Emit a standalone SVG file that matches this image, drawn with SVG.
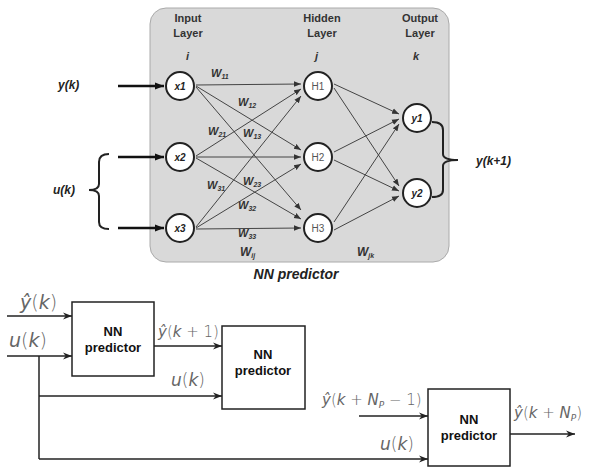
<svg xmlns="http://www.w3.org/2000/svg" width="590" height="472" viewBox="0 0 590 472">
<style>
.lbl{font-family:"Liberation Sans",Arial,sans-serif;font-weight:bold;fill:#333;font-size:11px}
.bi{font-family:"Liberation Sans",Arial,sans-serif;font-weight:bold;font-style:italic;fill:#222}
.w{font-family:"Liberation Sans",Arial,sans-serif;font-weight:bold;font-style:italic;fill:#333;font-size:11px}
.sub{font-size:7px}
.node{fill:#fff;stroke:#222;stroke-width:2}
.nl{font-family:"Liberation Sans",Arial,sans-serif;font-size:10px;text-anchor:middle}
.edge{stroke:#444;stroke-width:1;fill:none;marker-end:url(#sa)}
.thick{stroke:#111;stroke-width:2.5;fill:none;marker-end:url(#ta)}
.brace{stroke:#222;stroke-width:2;fill:none}
.box{fill:#fff;stroke:#222;stroke-width:1.5}
.bt{font-family:"Liberation Sans",Arial,sans-serif;font-weight:bold;font-size:13px;fill:#111;text-anchor:middle}
.ln{stroke:#222;stroke-width:1.5;fill:none}
.arr{stroke:#222;stroke-width:1.5;fill:none;marker-end:url(#ba)}
.m{font-family:"DejaVu Sans",sans-serif;font-weight:300;font-size:15px;fill:#666}
.it{font-style:italic}
</style>
<defs>
<marker id="sa" viewBox="0 0 10 10" refX="10" refY="5" markerWidth="7" markerHeight="7" orient="auto" markerUnits="userSpaceOnUse"><path d="M0,1 L10,5 L0,9 z" fill="#333"/></marker>
<marker id="ta" viewBox="0 0 10 10" refX="10" refY="5" markerWidth="9" markerHeight="9" orient="auto" markerUnits="userSpaceOnUse"><path d="M0,1 L10,5 L0,9 z" fill="#111"/></marker>
<marker id="ba" viewBox="0 0 10 10" refX="10" refY="5" markerWidth="9" markerHeight="9" orient="auto" markerUnits="userSpaceOnUse"><path d="M0,1 L10,5 L0,9 L3,5 z" fill="#222"/></marker>
</defs>

<g id="panel">
<rect x="150" y="8" width="299" height="254" rx="16" fill="#d9d9d9" stroke="#aaa" stroke-width="1"/>
<text class="lbl" x="188" y="22" text-anchor="middle">Input</text>
<text class="lbl" x="188" y="37" text-anchor="middle">Layer</text>
<text class="lbl" x="322" y="22" text-anchor="middle">Hidden</text>
<text class="lbl" x="322" y="37" text-anchor="middle">Layer</text>
<text class="lbl" x="420" y="22" text-anchor="middle">Output</text>
<text class="lbl" x="420" y="37" text-anchor="middle">Layer</text>
<text class="w" x="186" y="60">i</text>
<text class="w" x="315" y="60">j</text>
<text class="w" x="413" y="60">k</text>
<text class="w" x="211" y="77">W<tspan class="sub" dy="2">11</tspan></text>
<text class="w" x="238" y="106">W<tspan class="sub" dy="2">12</tspan></text>
<text class="w" x="208" y="135">W<tspan class="sub" dy="2">21</tspan></text>
<text class="w" x="243" y="137">W<tspan class="sub" dy="2">13</tspan></text>
<text class="w" x="207" y="189">W<tspan class="sub" dy="2">31</tspan></text>
<text class="w" x="243" y="185">W<tspan class="sub" dy="2">23</tspan></text>
<text class="w" x="238" y="209">W<tspan class="sub" dy="2">32</tspan></text>
<text class="w" x="238" y="237">W<tspan class="sub" dy="2">33</tspan></text>
<text class="w" x="240" y="256" style="font-size:12px">W<tspan class="sub" dy="2">ij</tspan></text>
<text class="w" x="357" y="256" style="font-size:12px">W<tspan class="sub" dy="2">jk</tspan></text>
<text class="bi" x="296" y="279" style="font-size:14px" text-anchor="middle">NN predictor</text>
</g>

<g id="connectors">
<line class="edge" x1="196" y1="85" x2="301" y2="84"/>
<line class="edge" x1="196" y1="86" x2="301" y2="150"/>
<line class="edge" x1="196" y1="87" x2="301" y2="210"/>
<line class="edge" x1="196" y1="156" x2="301" y2="89"/>
<line class="edge" x1="196" y1="157" x2="301" y2="157"/>
<line class="edge" x1="196" y1="158" x2="301" y2="219"/>
<line class="edge" x1="196" y1="227" x2="301" y2="96"/>
<line class="edge" x1="196" y1="228" x2="301" y2="164"/>
<line class="edge" x1="196" y1="229" x2="301" y2="228"/>
<line class="edge" x1="334" y1="84" x2="399" y2="114"/>
<line class="edge" x1="334" y1="88" x2="399" y2="186"/>
<line class="edge" x1="334" y1="152" x2="399" y2="119"/>
<line class="edge" x1="334" y1="160" x2="399" y2="191"/>
<line class="edge" x1="334" y1="222" x2="399" y2="124"/>
<line class="edge" x1="334" y1="230" x2="399" y2="196"/>
<line class="thick" x1="118" y1="86" x2="164" y2="86"/>
<line class="thick" x1="118" y1="157" x2="164" y2="157"/>
<line class="thick" x1="118" y1="228" x2="164" y2="228"/>
<path class="brace" d="M109,154 Q99,154 99,162 L99,184 Q99,190 89,190 Q99,190 99,196 L99,222 Q99,229 109,229"/>
<path class="brace" d="M432,122 Q443,122 443,130 L443,154 Q443,160 458,160 Q443,160 443,166 L443,190 Q443,197 432,197"/>
<line class="arr" x1="7" y1="316" x2="72" y2="316"/>
<line class="arr" x1="7" y1="356" x2="72" y2="356"/>
<line class="arr" x1="154" y1="346" x2="222" y2="346"/>
<polyline class="ln" points="39,356 39,459"/>
<line class="arr" x1="39" y1="396" x2="222" y2="396"/>
<line class="arr" x1="39" y1="459" x2="428" y2="459"/>
<line class="arr" x1="359" y1="416" x2="428" y2="416"/>
<line class="arr" x1="510" y1="434" x2="575" y2="434"/>
</g>

<g id="x1"><circle class="node" cx="180" cy="86" r="14"/><text class="nl bi" x="180" y="90">x1</text></g>
<g id="x2"><circle class="node" cx="180" cy="157" r="14"/><text class="nl bi" x="180" y="161">x2</text></g>
<g id="x3"><circle class="node" cx="180" cy="228" r="14"/><text class="nl bi" x="180" y="232">x3</text></g>
<g id="H1"><circle class="node" cx="318" cy="86" r="14"/><text class="nl" x="318" y="90" fill="#555">H1</text></g>
<g id="H2"><circle class="node" cx="318" cy="157" r="14"/><text class="nl" x="318" y="161" fill="#555">H2</text></g>
<g id="H3"><circle class="node" cx="318" cy="228" r="14"/><text class="nl" x="318" y="232" fill="#555">H3</text></g>
<g id="y1"><circle class="node" cx="417" cy="118" r="14"/><text class="nl bi" x="417" y="122">y1</text></g>
<g id="y2"><circle class="node" cx="417" cy="193" r="14"/><text class="nl bi" x="417" y="197">y2</text></g>

<g id="io-labels">
<text class="bi" x="58" y="89" style="font-size:12px">y(k)</text>
<text class="bi" x="53" y="194" style="font-size:12px">u(k)</text>
<text class="bi" x="476" y="165" style="font-size:12px">y(k+1)</text>
</g>

<g id="nn1"><rect class="box" x="72" y="302" width="82" height="74"/><text class="bt" x="113" y="336">NN</text><text class="bt" x="113" y="352">predictor</text></g>
<g id="nn2"><rect class="box" x="222" y="326" width="83" height="83"/><text class="bt" x="263" y="359">NN</text><text class="bt" x="263" y="375">predictor</text></g>
<g id="nn3"><rect class="box" x="428" y="389" width="82" height="77"/><text class="bt" x="469" y="424">NN</text><text class="bt" x="469" y="440">predictor</text></g>

<g id="math-labels">
<text class="m" x="20" y="309" style="font-size:19px"><tspan class="it">ŷ</tspan>(<tspan class="it">k</tspan>)</text>
<text class="m" x="9" y="347" style="font-size:19px"><tspan class="it">u</tspan>(<tspan class="it">k</tspan>)</text>
<text class="m" x="158" y="337"><tspan class="it">ŷ</tspan>(<tspan class="it">k</tspan> + 1)</text>
<text class="m" x="171" y="386" style="font-size:17px"><tspan class="it">u</tspan>(<tspan class="it">k</tspan>)</text>
<text class="m" x="322" y="405"><tspan class="it">ŷ</tspan>(<tspan class="it">k</tspan> + <tspan class="it">N</tspan><tspan class="it" style="font-size:9px" dy="3">P</tspan><tspan dy="-3"> − 1)</tspan></text>
<text class="m" x="380" y="450" style="font-size:17px"><tspan class="it">u</tspan>(<tspan class="it">k</tspan>)</text>
<text class="m" x="514" y="418"><tspan class="it">ŷ</tspan>(<tspan class="it">k</tspan> + <tspan class="it">N</tspan><tspan class="it" style="font-size:9px" dy="3">P</tspan><tspan dy="-3">)</tspan></text>
</g>
</svg>
